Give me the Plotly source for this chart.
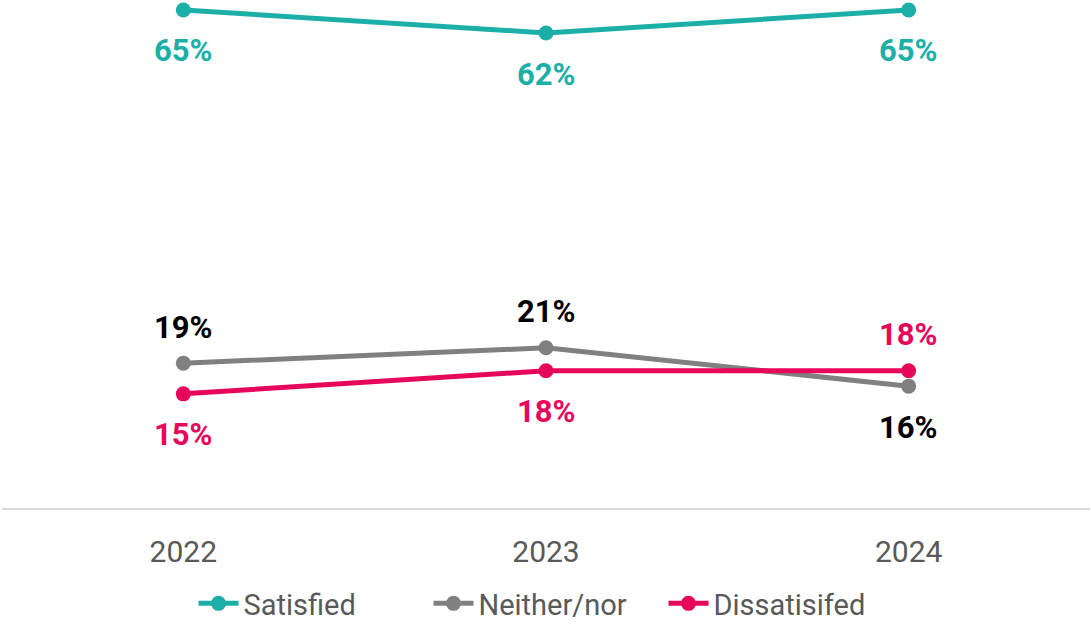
import plotly.graph_objects as go

# data
years = ["2022", "2023", "2024"]
satisfied = [65, 62, 65]
neither = [19, 21, 16]
dissatisfied = [15, 18, 18]

# label placement per point: +1 above, -1 below
sat_pos = [-1, -1, -1]
nei_pos = [1, 1, -1]
dis_pos = [-1, -1, 1]

series = [
    ("Satisfied", satisfied, "#1cafa8", "#1cafa8", sat_pos),
    ("Neither/nor", neither, "#808080", "#000000", nei_pos),
    ("Dissatisifed", dissatisfied, "#e6075b", "#e6075b", dis_pos),
]

fig = go.Figure()
annotations = []
for name, vals, col, lblcol, pos in series:
    fig.add_trace(go.Scatter(
        x=years, y=vals, name=name, mode="lines+markers",
        line=dict(color=col, width=5),
        marker=dict(color=col, size=15),
        cliponaxis=False,
    ))
    for i, (v, p) in enumerate(zip(vals, pos)):
        annotations.append(dict(
            x=i, y=v, xref="x", yref="y", text=f"<b>{v}%</b>", showarrow=False,
            yshift=36 if p > 0 else -41,
            font=dict(size=31, color=lblcol, family="Roboto"),
        ))

fig.update_layout(
    width=1091, height=629,
    margin=dict(l=2, r=1, t=0, b=120),
    paper_bgcolor="white", plot_bgcolor="white",
    font=dict(family="Roboto", color="#595959"),
    showlegend=True,
    legend=dict(orientation="h", x=0.5, xanchor="center",
                yref="container", y=-0.011, yanchor="bottom",
                entrywidth=180, entrywidthmode="pixels",
                font=dict(size=29, color="#595959"), itemwidth=40),
    annotations=annotations,
)
fig.update_xaxes(
    type="category", range=[-0.5, 2.5], showgrid=False, zeroline=False,
    showline=False, ticks="outside", ticklen=16, tickcolor="rgba(0,0,0,0)",
    tickfont=dict(size=30, color="#595959", family="Roboto"),
)
fig.update_yaxes(
    range=[0, 66.3], showgrid=False, zeroline=True, zerolinecolor="#d9d9d9",
    zerolinewidth=2, showticklabels=False, showline=False,
)

fig.write_html("out.html", config={"responsive": False, "displayModeBar": False},
               post_script="document.body.style.margin='0';")
